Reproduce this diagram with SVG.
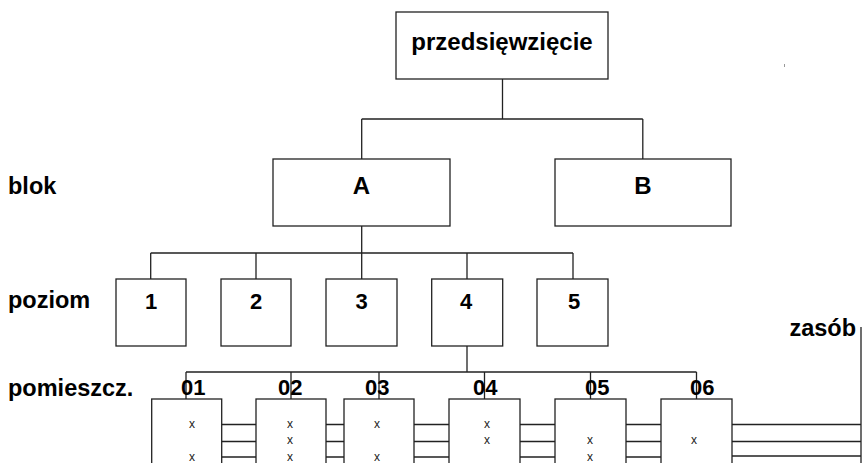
<svg xmlns="http://www.w3.org/2000/svg" width="863" height="463" viewBox="0 0 863 463">
<style>
  .box { fill: #fff; stroke: #222; stroke-width: 1.3; }
  .ln { fill: none; stroke: #222; stroke-width: 1.3; }
  .lbl { font-family: "Liberation Sans", Arial, sans-serif; font-weight: bold; font-size: 23.5px; fill: #000; }
  .big { font-family: "Liberation Sans", Arial, sans-serif; font-weight: bold; font-size: 24px; fill: #000; text-anchor: middle; }
  .num { font-family: "Liberation Sans", Arial, sans-serif; font-weight: bold; font-size: 22px; fill: #000; text-anchor: middle; }
  .rn { font-family: "Liberation Sans", Arial, sans-serif; font-weight: bold; font-size: 22px; fill: #000; }
  .x { font-family: "Liberation Sans", Arial, sans-serif; font-size: 12px; fill: #222; text-anchor: middle; }
</style>
<rect width="863" height="463" fill="#fff"/>

<!-- row labels -->
<g id="row-labels">
  <text class="lbl" x="8" y="194">blok</text>
  <text class="lbl" x="8" y="308">poziom</text>
  <text class="lbl" x="8" y="396">pomieszcz.</text>
</g>

<!-- connectors -->
<g id="connectors">
  <path class="ln" d="M502.5 79 V119 M361.7 119 H642.8 M361.7 119 V159 M642.8 119 V159"/>
  <path class="ln" d="M361.7 226 V253 M150.7 253 H573 M150.7 253 V279 M256 253 V279 M361.7 253 V279 M467 253 V279 M573 253 V279"/>
  <path class="ln" d="M467 346 V372 M186 372 H696.5 M186 372 V399 M291 372 V399 M379 372 V399 M484.5 372 V399 M590.5 372 V399 M696.5 372 V399"/>
  <path class="ln" d="M221.7 424.5 H256 M221.7 441.5 H256 M221.7 457 H256
                      M326 424.5 H344 M326 441.5 H344 M326 457 H344
                      M414 424.5 H449 M414 441.5 H449 M414 457 H449
                      M520 424.5 H555 M520 441.5 H555 M520 457 H555
                      M626 424.5 H661 M626 441.5 H661 M626 457 H661
                      M732 424.5 H861 M732 441.5 H861 M732 456 H861
                      M861 327 V463"/>
</g>

<!-- top -->
<g id="node-przedsiewziecie">
  <rect class="box" x="396" y="12" width="212" height="67"/>
  <text class="big" x="502" y="50">przedsięwzięcie</text>
</g>

<!-- blocks -->
<g id="node-A">
  <rect class="box" x="273" y="159" width="177" height="67"/>
  <text class="big" x="361.5" y="194">A</text>
</g>
<g id="node-B">
  <rect class="box" x="555" y="159" width="176" height="67"/>
  <text class="big" x="643" y="194">B</text>
</g>

<!-- levels -->
<g id="node-1"><rect class="box" x="116" y="279" width="70" height="67"/><text class="num" x="151" y="309">1</text></g>
<g id="node-2"><rect class="box" x="221" y="279" width="70" height="67"/><text class="num" x="256" y="309">2</text></g>
<g id="node-3"><rect class="box" x="326" y="279" width="71" height="67"/><text class="num" x="361.5" y="309">3</text></g>
<g id="node-4"><rect class="box" x="431.7" y="279" width="71" height="67"/><text class="num" x="466" y="309">4</text></g>
<g id="node-5"><rect class="box" x="537" y="279" width="71" height="67"/><text class="num" x="574" y="309">5</text></g>

<!-- rooms -->
<g id="node-01">
  <rect class="box" x="151.7" y="399" width="70" height="80"/>
  <text class="rn" x="181" y="395">01</text>
  <text class="x" x="192" y="427.7">x</text>
  <text class="x" x="192" y="460.5">x</text>
</g>
<g id="node-02">
  <rect class="box" x="256" y="399" width="70" height="80"/>
  <text class="rn" x="278" y="395">02</text>
  <text class="x" x="290" y="427.7">x</text>
  <text class="x" x="290" y="444.3">x</text>
  <text class="x" x="290" y="460.5">x</text>
</g>
<g id="node-03">
  <rect class="box" x="344" y="399" width="70" height="80"/>
  <text class="rn" x="365" y="395">03</text>
  <text class="x" x="377" y="427.7">x</text>
  <text class="x" x="377" y="460.5">x</text>
</g>
<g id="node-04">
  <rect class="box" x="449" y="399" width="71" height="80"/>
  <text class="rn" x="473" y="395">04</text>
  <text class="x" x="487" y="427.7">x</text>
  <text class="x" x="487" y="444.3">x</text>
</g>
<g id="node-05">
  <rect class="box" x="555" y="399" width="71" height="80"/>
  <text class="rn" x="585" y="395">05</text>
  <text class="x" x="590" y="444.3">x</text>
  <text class="x" x="590" y="460.5">x</text>
</g>
<g id="node-06">
  <rect class="box" x="661" y="399" width="71" height="80"/>
  <text class="rn" x="690" y="395">06</text>
  <text class="x" x="694" y="444.3">x</text>
</g>

<!-- resource -->
<g id="node-zasob">
  <text class="lbl" x="856" y="336" text-anchor="end">zasób</text>
</g>

<rect x="784" y="64" width="1" height="3" fill="#999"/>
</svg>
